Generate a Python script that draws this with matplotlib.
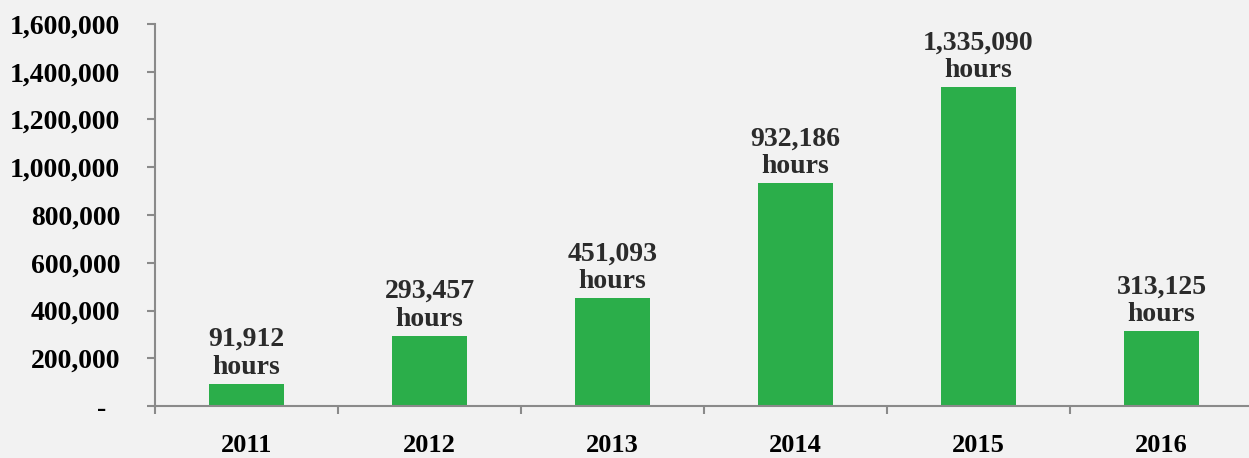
import matplotlib.pyplot as plt
from matplotlib.ticker import FuncFormatter, FixedLocator

# data
years = ['2011', '2012', '2013', '2014', '2015', '2016']
hours = [91912, 293457, 451093, 932186, 1335090, 313125]
yticks = [0, 200000, 400000, 600000, 800000, 1000000, 1200000, 1400000, 1600000]

bg = '#f2f2f2'
green = '#2bae4a'
grey = '#8a8a8a'
plt.rcParams['font.family'] = ['Liberation Serif', 'DejaVu Serif']

fig = plt.figure(figsize=(12.49, 4.58), dpi=100, facecolor=bg)
ax = fig.add_axes([155/1249, 1-406/458, (1253-155)/1249, (406-24)/458])
ax.set_facecolor(bg)

x = list(range(len(years)))
ax.bar(x, hours, width=0.41, color=green, zorder=2)

for xi, v in zip(x, hours):
    ax.annotate(f'{v:,}\nhours', (xi, v), xytext=(0, 3), textcoords='offset points',
                ha='center', va='bottom', fontsize=20, color='#2b2b2b',
                fontweight='bold', linespacing=1.15)

ax.set_xlim(-0.5, len(years) - 0.5)
ax.set_ylim(0, 1600000)

ax.set_yticks(yticks)
# accounting style: zero shown as a dash, set in from the right
ax.yaxis.set_major_formatter(FuncFormatter(lambda v, p: '-  ' if v == 0 else f'{int(v):,}'))
ax.xaxis.set_major_locator(FixedLocator([i - 0.5 for i in range(len(years) + 1)]))
ax.xaxis.set_major_formatter(FuncFormatter(lambda v, p: ''))
ax.set_xticks(x, minor=True)
ax.set_xticklabels(years, minor=True)
ax.tick_params(axis='x', which='minor', length=0, pad=20, labelsize=19)
ax.tick_params(axis='x', which='major', length=6, width=1.5, color=grey)
ax.tick_params(axis='y', length=6, width=1.5, color=grey, pad=19, labelsize=20)
for lab in ax.get_xticklabels(minor=True) + ax.get_yticklabels():
    lab.set_fontweight('bold')

for s in ['top', 'right']:
    ax.spines[s].set_visible(False)
for s in ['left', 'bottom']:
    ax.spines[s].set_color(grey)
    ax.spines[s].set_linewidth(1.5)

fig.savefig('out.png', dpi=100, facecolor=bg)
